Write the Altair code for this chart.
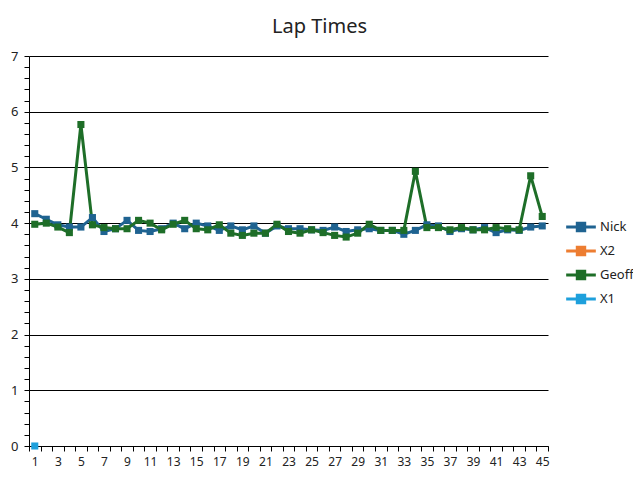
import altair as alt
import pandas as pd

laps = list(range(1, 46))
nick = [4.17, 4.07, 3.97, 3.93, 3.93, 4.10, 3.85, 3.90, 4.05, 3.87,
        3.85, 3.90, 4.00, 3.90, 4.00, 3.95, 3.87, 3.95, 3.88, 3.95,
        3.82, 3.95, 3.90, 3.90, 3.88, 3.87, 3.93, 3.85, 3.88, 3.90,
        3.87, 3.87, 3.80, 3.87, 3.97, 3.95, 3.85, 3.90, 3.88, 3.92,
        3.83, 3.88, 3.87, 3.93, 3.95]
geoff = [3.98, 4.00, 3.93, 3.83, 5.77, 3.97, 3.92, 3.90, 3.90, 4.05,
         4.00, 3.88, 3.98, 4.05, 3.90, 3.88, 3.97, 3.82, 3.78, 3.82,
         3.82, 3.98, 3.85, 3.82, 3.88, 3.83, 3.78, 3.75, 3.82, 3.98,
         3.87, 3.87, 3.87, 4.93, 3.92, 3.92, 3.88, 3.92, 3.88, 3.88,
         3.92, 3.90, 3.88, 4.85, 4.12]
x1_laps = [1]
x1 = [0.0]

series = ["Nick", "X2", "Geoff", "X1"]
colors = ["#1f6391", "#ed7d31", "#1e6e28", "#1ea0dc"]
y_ticks = [round(i * 0.2, 1) for i in range(36)]

rows = []
for l, v in zip(laps, nick):
    rows.append({"Lap": l, "Time": v, "Series": "Nick"})
for l, v in zip(laps, geoff):
    rows.append({"Lap": l, "Time": v, "Series": "Geoff"})
for l, v in zip(x1_laps, x1):
    rows.append({"Lap": l, "Time": v, "Series": "X1"})
df = pd.DataFrame(rows)

FONT = "Noto Sans"
is_int = "abs(datum.value - round(datum.value)) < 0.01"

chart = alt.Chart(df).mark_line(
    strokeWidth=3,
    point=alt.OverlayMarkDef(shape="square", size=50, filled=True, opacity=1),
).encode(
    x=alt.X("Lap:O", sort=laps,
            scale=alt.Scale(type="band", paddingInner=0, paddingOuter=0, domain=laps),
            axis=alt.Axis(title=None, labelAngle=0, tickBand="extent",
                          labelExpr="datum.value % 2 == 1 ? datum.label : ''",
                          labelOverlap=False, domainColor="#000", tickColor="#000",
                          tickSize=5, labelPadding=5, labelFontSize=12,
                          labelColor="#222", labelFont=FONT, grid=False)),
    y=alt.Y("Time:Q", scale=alt.Scale(domain=[0, 7], nice=False, zero=True),
            axis=alt.Axis(title=None, values=y_ticks,
                          labelExpr=is_int + " ? format(datum.value, '.0f') : ''",
                          labelOverlap=False, labelFlush=False,
                          grid=True, gridColor="#000", gridWidth=1,
                          gridOpacity={"condition": {"test": is_int, "value": 1}, "value": 0},
                          domainColor="#000", tickColor="#000", tickSize=5,
                          labelPadding=6, labelFontSize=13, labelColor="#222",
                          labelFont=FONT)),
    color=alt.Color("Series:N", scale=alt.Scale(domain=series, range=colors),
                    legend=alt.Legend(title=None, orient="none", legendX=543, legendY=162,
                                      symbolType="M-2,0L2,0M-0.5,-0.5L0.5,-0.5L0.5,0.5L-0.5,0.5Z",
                                      symbolSize=220, symbolStrokeWidth=3,
                                      labelFont=FONT, labelFontSize=13, labelColor="#222",
                                      rowPadding=4, labelOffset=10)),
    order=alt.Order("Lap:Q"),
).properties(
    width=519, height=390,
    title=alt.TitleParams("Lap Times", font=FONT, fontSize=20, fontWeight="normal",
                          color="#222", anchor="middle", dx=31, offset=13),
    autosize=alt.AutoSizeParams(type="none"),
    padding={"left": 21, "top": 48, "right": 85, "bottom": 26},
).configure_view(stroke=None)

chart.save("out.html", embed_options={"renderer": "svg", "actions": False})
